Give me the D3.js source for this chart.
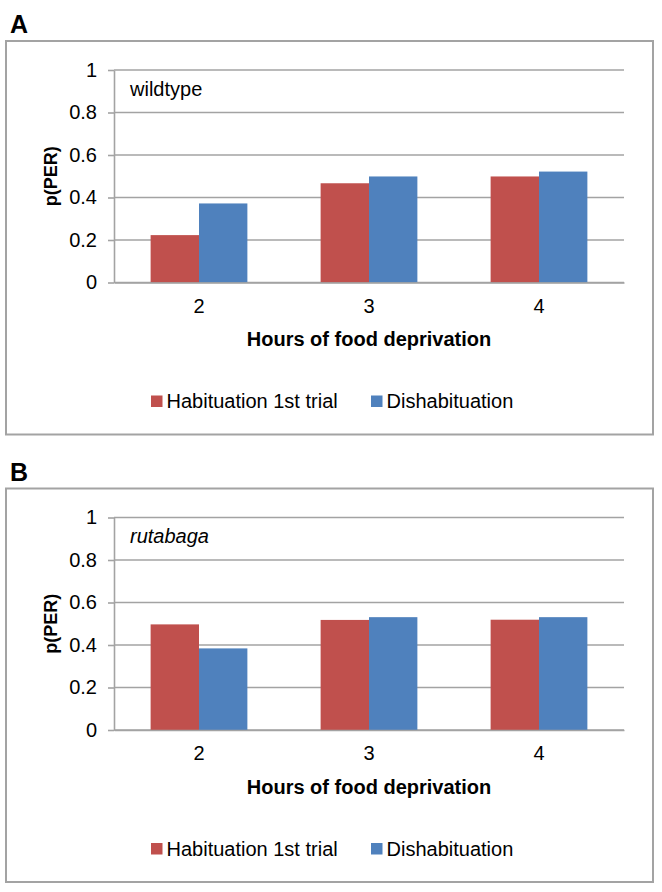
<!DOCTYPE html>
<html>
<head>
<meta charset="utf-8">
<script src="https://cdn.jsdelivr.net/npm/d3@7"></script>
<style>
  html, body { margin: 0; padding: 0; background: #fff; }
  svg { display: block; }
  text { font-family: "Liberation Sans", Arial, sans-serif; fill: #000; }
</style>
</head>
<body>
<svg id="chart" width="662" height="892"></svg>
<script>
// ---- data ----
const categories = ["2", "3", "4"];
const seriesNames = ["Habituation 1st trial", "Dishabituation"];
const seriesColors = ["#C0504D", "#4F81BD"];
const wildtypeHabituation = [0.223, 0.467, 0.499];
const wildtypeDishabituation = [0.372, 0.499, 0.522];
const rutabagaHabituation = [0.497, 0.518, 0.519];
const rutabagaDishabituation = [0.384, 0.531, 0.531];
const yTickValues = [0, 0.2, 0.4, 0.6, 0.8, 1];
const yTickLabels = ["0", "0.2", "0.4", "0.6", "0.8", "1"];
const xAxisTitle = "Hours of food deprivation";
const yAxisTitle = "p(PER)";

const panels = [
  { letter: "A", label: "wildtype", italic: false, offset: 0,
    values: [wildtypeHabituation, wildtypeDishabituation] },
  { letter: "B", label: "rutabaga", italic: true, offset: 447.5,
    values: [rutabagaHabituation, rutabagaDishabituation] }
];

const svg = d3.select("#chart");
const gridColor = "#a3a3a3";

panels.forEach(p => {
  const g = svg.append("g").attr("transform", `translate(0,${p.offset})`);

  // panel letter
  g.append("text").attr("x", 10).attr("y", 33)
    .style("font-size", "25px").style("font-weight", "bold").text(p.letter);

  // border
  g.append("rect").attr("x", 6).attr("y", 41).attr("width", 647).attr("height", 393.5)
    .attr("fill", "#fff").attr("stroke", gridColor).attr("stroke-width", 2);

  const plotLeft = 114, plotRight = 624, plotTop = 70, plotBottom = 282.5;
  const y = d3.scaleLinear().domain([0, 1]).range([plotBottom, plotTop]);
  const x0 = d3.scaleBand().domain(categories).range([plotLeft, plotRight]).padding(0);
  const x1 = d3.scaleBand().domain(seriesNames).range([0, x0.bandwidth()])
    .paddingInner(0).paddingOuter(0.757);

  // gridlines
  g.append("g").selectAll("line").data(yTickValues).join("line")
    .attr("x1", plotLeft).attr("x2", plotRight)
    .attr("y1", d => y(d)).attr("y2", d => y(d))
    .attr("stroke", gridColor).attr("stroke-width", 1.6);

  // bars
  const rows = categories.map((c, i) => ({ cat: c, vals: seriesNames.map((s, j) => ({ s, j, v: p.values[j][i] })) }));
  g.append("g").selectAll("g").data(rows).join("g")
    .attr("transform", d => `translate(${x0(d.cat)},0)`)
    .selectAll("rect").data(d => d.vals).join("rect")
    .attr("x", d => x1(d.s)).attr("width", x1.bandwidth())
    .attr("y", d => y(d.v)).attr("height", d => y(0) - y(d.v))
    .attr("fill", d => seriesColors[d.j]);

  // y axis
  const yAxis = d3.axisLeft(y).tickValues(yTickValues)
    .tickFormat((d, i) => yTickLabels[i]).tickSize(6).tickSizeOuter(0).tickPadding(11);
  const ya = g.append("g").attr("transform", `translate(${plotLeft},0)`).call(yAxis);
  ya.select(".domain").attr("stroke", gridColor).attr("stroke-width", 1.6);
  ya.selectAll(".tick line").attr("stroke", gridColor).attr("stroke-width", 1.6);
  ya.selectAll(".tick text").style("font-size", "20px")
    .style("font-family", "'Liberation Sans', Arial, sans-serif").attr("fill", "#000");

  // x axis
  const xAxis = d3.axisBottom(x0).tickSize(0).tickPadding(16);
  const xa = g.append("g").attr("transform", `translate(0,${plotBottom})`).call(xAxis);
  xa.select(".domain").attr("stroke", gridColor).attr("stroke-width", 1.6);
  xa.selectAll(".tick text").style("font-size", "20px")
    .style("font-family", "'Liberation Sans', Arial, sans-serif").attr("fill", "#000");

  // inner label
  g.append("text").attr("x", 130).attr("y", 95.5)
    .style("font-size", "20px").style("font-style", p.italic ? "italic" : "normal").text(p.label);

  // axis titles
  g.append("text").attr("x", (plotLeft + plotRight) / 2).attr("y", 346)
    .attr("text-anchor", "middle").style("font-size", "20px").style("font-weight", "bold")
    .text(xAxisTitle);
  g.append("text").attr("transform", `translate(57,${(plotTop + plotBottom) / 2}) rotate(-90)`)
    .attr("text-anchor", "middle").style("font-size", "18px").style("font-weight", "bold")
    .text(yAxisTitle);

  // legend
  const legendX = [151, 371];
  const lg = g.append("g");
  seriesNames.forEach((s, j) => {
    lg.append("rect").attr("x", legendX[j]).attr("y", 395.5).attr("width", 11.5).attr("height", 11.5)
      .attr("fill", seriesColors[j]);
    lg.append("text").attr("x", legendX[j] + 15.5).attr("y", 408.3)
      .style("font-size", "20px").text(s);
  });
});
</script>
</body>
</html>
